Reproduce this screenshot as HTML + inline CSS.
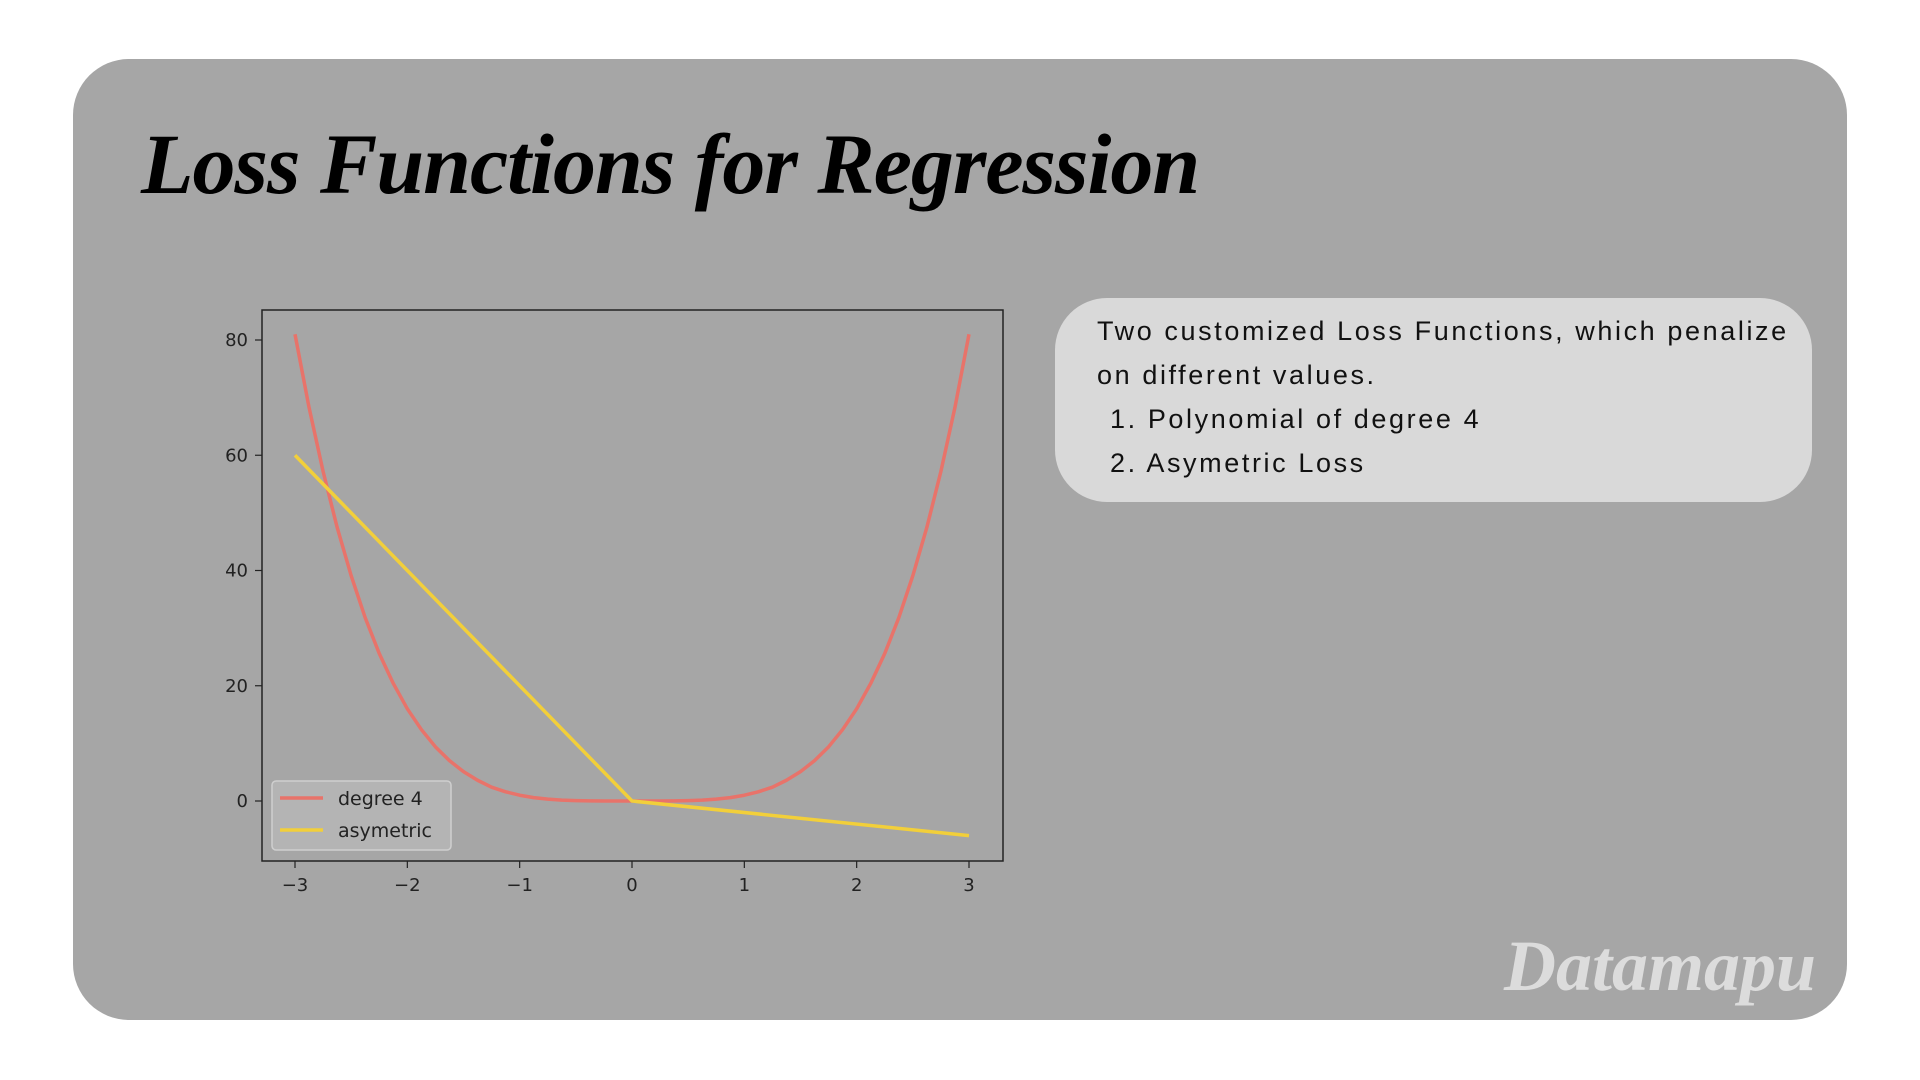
<!DOCTYPE html>
<html><head><meta charset="utf-8"><style>
html,body{margin:0;padding:0;background:#fff;width:1920px;height:1080px;overflow:hidden}
#card{position:absolute;left:73px;top:59px;width:1774px;height:961px;background:#a6a6a6;border-radius:56px}
#title{position:absolute;left:141px;top:114px;font-family:"Liberation Serif",serif;font-style:italic;font-weight:bold;font-size:86px;color:#000;letter-spacing:-1px;white-space:nowrap}
#bubble{position:absolute;left:1055px;top:298px;width:757px;height:204px;background:#d9d9d9;border-radius:52px}
#bubble div{position:absolute;left:42px;font-family:"Liberation Sans",sans-serif;font-size:27px;color:#111;letter-spacing:2.6px;white-space:nowrap}
#wm{position:absolute;left:1504px;top:925px;font-family:"Liberation Serif",serif;font-style:italic;font-weight:bold;font-size:72px;color:#dcdcdc;white-space:nowrap}
svg{position:absolute;left:0;top:0}
</style></head><body>
<div id="card"></div>
<div id="title">Loss Functions for Regression</div>
<div id="bubble">
<div style="top:18px">Two customized Loss Functions, which penalize</div>
<div style="top:62px">on different values.</div>
<div style="top:106px;left:55px">1. Polynomial of degree 4</div>
<div style="top:150px;left:55px">2. Asymetric Loss</div>
</div>
<div id="wm">Datamapu</div>
<svg id="chart" width="1920" height="1080"></svg>
<script>
const xTicks=[-3,-2,-1,0,1,2,3];
const yTicks=[0,20,40,60,80];
const polyX=[-3,-2.875,-2.75,-2.625,-2.5,-2.375,-2.25,-2.125,-2,-1.875,-1.75,-1.625,-1.5,-1.375,-1.25,-1.125,-1,-0.875,-0.75,-0.625,-0.5,-0.375,-0.25,-0.125,0,0.125,0.25,0.375,0.5,0.625,0.75,0.875,1,1.125,1.25,1.375,1.5,1.625,1.75,1.875,2,2.125,2.25,2.375,2.5,2.625,2.75,2.875,3];
const polyY=[81,68.3,57.2,47.5,39.1,31.8,25.6,20.4,16,12.4,9.4,7,5.1,3.6,2.4,1.6,1,0.59,0.32,0.15,0.06,0.02,0,0,0,0,0,0.02,0.06,0.15,0.32,0.59,1,1.6,2.4,3.6,5.1,7,9.4,12.4,16,20.4,25.6,31.8,39.1,47.5,57.2,68.3,81];
const asymX=[-3,0,3];
const asymY=[60,0,-6];
const seriesNames=["degree 4","asymetric"];
const NS="http://www.w3.org/2000/svg";
const svg=document.getElementById('chart');
const sx=v=>295+(v+3)*(674/6);
const sy=v=>801-v*(461/80);
function mk(t,a){const e=document.createElementNS(NS,t);for(const k in a)e.setAttribute(k,a[k]);svg.appendChild(e);return e;}
const frame=mk('rect',{x:262,y:310,width:741,height:551,fill:'none',stroke:'#222','stroke-width':1.5});


xTicks.forEach(t=>{
 const l=mk('line',{x1:sx(t),x2:sx(t),y1:861,y2:868,stroke:'#222','stroke-width':1.2});
 
 
 const tx=mk('text',{x:sx(t),y:891,'text-anchor':'middle','font-family':'DejaVu Sans, sans-serif','font-size':18,fill:'#222'});
 tx.textContent=t<0?'\u2212'+Math.abs(t):String(t);
 
 
});
yTicks.forEach(t=>{
 const l=mk('line',{x1:255,x2:262,y1:sy(t),y2:sy(t),stroke:'#222','stroke-width':1.2});
 
 
 const tx=mk('text',{x:248,y:sy(t)+6,'text-anchor':'end','font-family':'DejaVu Sans, sans-serif','font-size':18,fill:'#222'});
 tx.textContent=String(t);
 
 
});
const p1=mk('polyline',{points:polyX.map((x,i)=>sx(x)+','+sy(polyY[i])).join(' '),fill:'none',stroke:'#e8736a','stroke-width':3.5,'stroke-linejoin':'round'});


const p2=mk('polyline',{points:asymX.map((x,i)=>sx(x)+','+sy(asymY[i])).join(' '),fill:'none',stroke:'#f2cf3a','stroke-width':3.5});


const lg=mk('rect',{x:272,y:781,width:179,height:69,rx:4,fill:'#b4b4b4',stroke:'#cfcfcf','stroke-width':1.5});


const cols=['#e8736a','#f2cf3a'];
seriesNames.forEach((n,i)=>{
 const y=798+i*32;
 const l=mk('line',{x1:280,x2:323,y1:y,y2:y,stroke:cols[i],'stroke-width':3.5});
 
 
 const t=mk('text',{x:338,y:y+7,'font-family':'DejaVu Sans, sans-serif','font-size':19,fill:'#222'});
 t.textContent=n;
 
 
});
</script>
</body></html>
